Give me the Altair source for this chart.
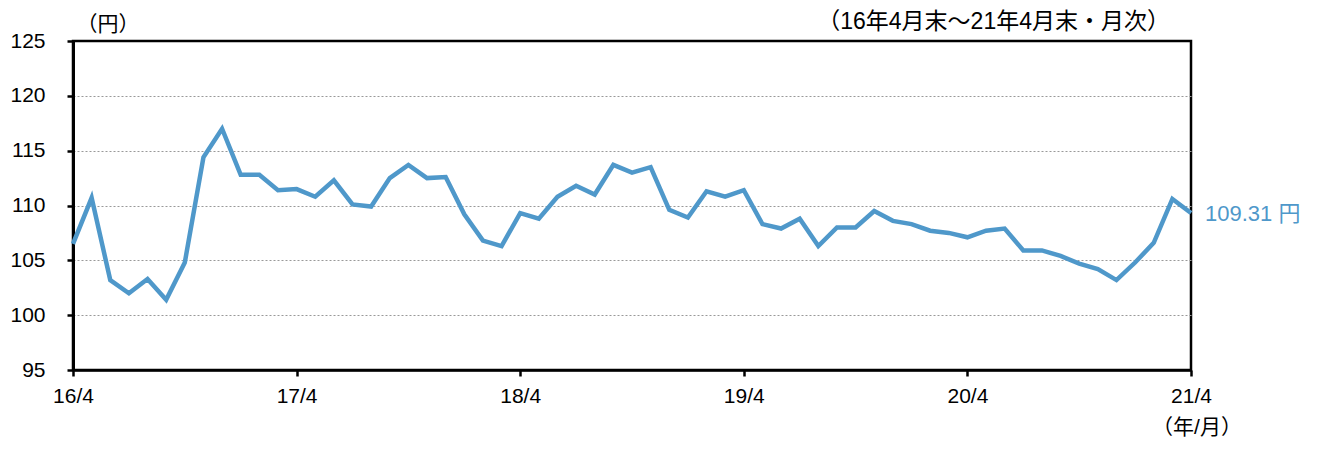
import altair as alt
import pandas as pd

values = [106.5, 110.7, 103.2, 102.0, 103.3, 101.4, 104.8, 114.4, 117.0, 112.8,
          112.8, 111.4, 111.5, 110.8, 112.3, 110.1, 109.9, 112.5, 113.7, 112.5,
          112.6, 109.2, 106.8, 106.3, 109.3, 108.8, 110.8, 111.8, 111.0, 113.7,
          113.0, 113.5, 109.6, 108.9, 111.3, 110.8, 111.4, 108.3, 107.9, 108.8,
          106.3, 108.0, 108.0, 109.5, 108.6, 108.3, 107.7, 107.5, 107.1, 107.7,
          107.9, 105.9, 105.9, 105.4, 104.7, 104.2, 103.2, 104.8, 106.6, 110.6,
          109.31]
months = list(range(len(values)))
tick_labels = ["16/4", "17/4", "18/4", "19/4", "20/4", "21/4"]
tick_values = [0, 12, 24, 36, 48, 60]
y_ticks = [95, 100, 105, 110, 115, 120, 125]
last_label = ["109.31 円"]

df = pd.DataFrame({"m": months, "v": values})
last = pd.DataFrame({"m": [months[-1]], "v": [values[-1]], "t": last_label})

FONT = "Liberation Sans, Noto Sans CJK JP"
BLUE = "#4F98CA"
FS = 21

label_expr = "{" + ",".join(f"'{k}':'{l}'" for k, l in zip(tick_values, tick_labels)) + "}[datum.value]"

x = alt.X("m:Q", scale=alt.Scale(domain=[0, 60], nice=False, zero=False),
          axis=alt.Axis(values=tick_values, labelExpr=label_expr, title=None,
                        grid=False, domainColor="black", domainWidth=2.5,
                        tickColor="black", tickWidth=2.5, tickSize=6,
                        labelFontSize=FS, labelFont=FONT, labelColor="black",
                        labelPadding=9, labelFlush=False))
y = alt.Y("v:Q", scale=alt.Scale(domain=[95, 125], nice=False, zero=False),
          axis=alt.Axis(values=y_ticks, title=None, grid=True,
                        gridColor={"condition": {"test": "datum.value == 95 || datum.value == 125",
                                                 "value": "transparent"},
                                   "value": "#999999"},
                        gridDash=[2, 2], gridWidth=1.2,
                        domainColor="black", domainWidth=3,
                        tickColor="black", tickWidth=2.5, tickSize=6,
                        labelFontSize=FS, labelFont=FONT, labelColor="black",
                        labelPadding=22))

line = alt.Chart(df).mark_line(color=BLUE, strokeWidth=4.5, strokeJoin="miter").encode(x=x, y=y)

end_text = alt.Chart(last).mark_text(align="left", baseline="middle", dx=14, dy=1,
                                     fontSize=22, font=FONT, color=BLUE).encode(
    x="m:Q", y="v:Q", text="t:N")

def label(txt, px, py, align="center", fs=FS):
    return alt.Chart(pd.DataFrame({"t": [txt]})).mark_text(
        align=align, baseline="middle", fontSize=fs, font=FONT, color="black"
    ).encode(x=alt.value(px), y=alt.value(py), text="t:N")

unit = label("（円）", 35, -16)
period = label("（16年4月末～21年4月末・月次）", 1097, -19, align="right", fs=23)
xunit = label("（年/月）", 1124, 387, fs=21)

chart = alt.layer(line, end_text, unit, period, xunit).properties(
    width=1118, height=329,
    autosize=alt.AutoSizeParams(type="none"),
    padding={"left": 65, "top": 33, "right": 123, "bottom": 70},
).configure(background="white").configure_view(stroke="black", strokeWidth=2.5)

chart.save("out.html", embed_options={"renderer": "svg", "actions": False})
